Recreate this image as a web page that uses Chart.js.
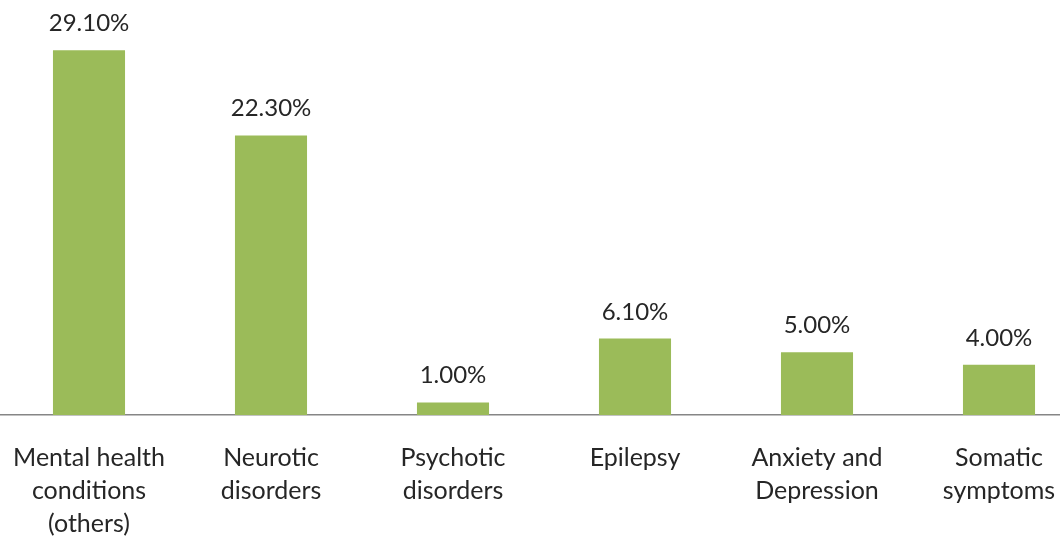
<!DOCTYPE html>
<html><head><meta charset="utf-8">
<script src="https://cdn.jsdelivr.net/npm/chart.js@4"></script>
<style>
html,body{margin:0;padding:0;background:#fff;overflow:hidden;width:1060px;height:538px;}
#wrap{position:absolute;left:-2px;top:0;width:1092px;height:540px;}
</style></head><body>
<div id="wrap"><canvas id="c" width="1092" height="540"></canvas></div>
<script>
const categories = [
  ["Mental health","conditions","(others)"],
  ["Neurotic","disorders"],
  ["Psychotic","disorders"],
  ["Epilepsy"],
  ["Anxiety and","Depression"],
  ["Somatic","symptoms"]
];
const values = [29.1, 22.3, 1.0, 6.1, 5.0, 4.0];
const valueLabels = ["29.10%","22.30%","1.00%","6.10%","5.00%","4.00%"];

const FONT = "Lato, 'Open Sans', sans-serif";
const labelPlugin = {
  id: 'valueLabels',
  afterDatasetsDraw(chart) {
    const ctx = chart.ctx;
    const meta = chart.getDatasetMeta(0);
    ctx.save();
    ctx.font = "24px " + FONT;
    ctx.fillStyle = "#262626";
    ctx.textAlign = "center";
    ctx.textBaseline = "alphabetic";
    meta.data.forEach((bar, i) => {
      ctx.fillText(valueLabels[i], bar.x, bar.y - 19);
    });
    ctx.restore();
  }
};

new Chart(document.getElementById('c'), {
  type: 'bar',
  data: {
    labels: categories,
    datasets: [{
      data: values,
      backgroundColor: '#9BBB59',
      borderWidth: 0,
      barPercentage: 0.396,
      categoryPercentage: 1.0
    }]
  },
  options: {
    responsive: false,
    animation: false,
    devicePixelRatio: 1,
    layout: { padding: { top: 0, left: 0, right: 0, bottom: 0 } },
    plugins: { legend: { display: false }, tooltip: { enabled: false } },
    scales: {
      x: {
        offset: true,
        grid: { display: true, color: 'rgba(0,0,0,0)', drawOnChartArea: false, drawTicks: true, tickLength: 26 },
        border: { display: true, color: '#868686', width: 1.5 },
        ticks: {
          color: '#262626',
          font: { family: FONT, size: 25, lineHeight: '33px' },
          padding: 0,
          maxRotation: 0,
          autoSkip: false
        }
      },
      y: {
        display: false,
        min: 0,
        max: 33.1
      }
    }
  },
  plugins: [labelPlugin]
});
</script>
</body></html>
